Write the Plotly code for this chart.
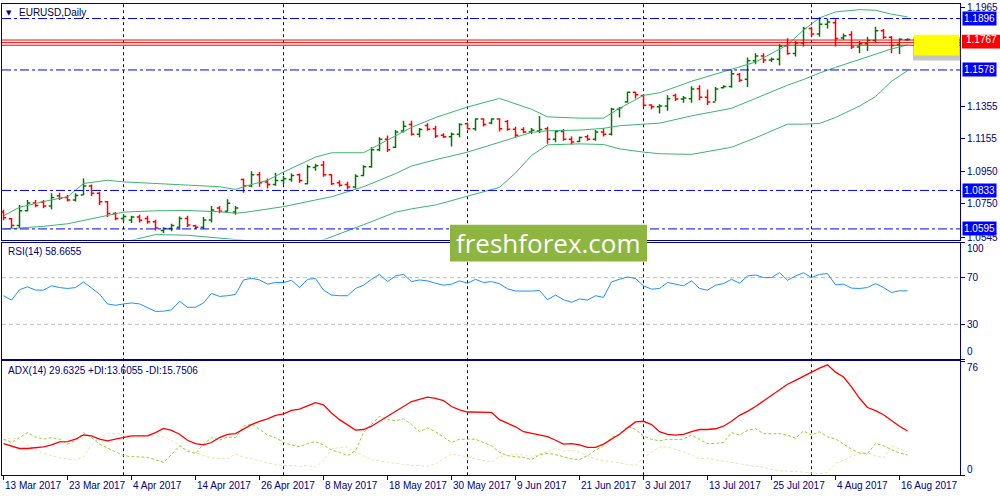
import pandas as pd
import plotly.graph_objects as go

# EURUSD daily bars, 13 Mar 2017 .. 17 Aug 2017 (weekdays)
dates = pd.bdate_range("2017-03-13", "2017-08-17")

opens = [1.0700, 1.0658, 1.0616, 1.0708, 1.0756, 1.0760, 1.0736, 1.0800, 1.0790, 1.0774,
         1.0805, 1.0860, 1.0815, 1.0763, 1.0690, 1.0660, 1.0650, 1.0668, 1.0660, 1.0640,
         1.0585, 1.0598, 1.0605, 1.0660, 1.0615, 1.0605, 1.0650, 1.0725, 1.0705, 1.0700,
         1.0900, 1.0860, 1.0930, 1.0885, 1.0870, 1.0895, 1.0900, 1.0930, 1.0875, 1.0975,
         1.0990, 1.0930, 1.0880, 1.0870, 1.0855, 1.0925, 1.0980, 1.1085, 1.1150, 1.1100,
         1.1200, 1.1240, 1.1180, 1.1235, 1.1215, 1.1175, 1.1165, 1.1180, 1.1245, 1.1215,
         1.1275, 1.1250, 1.1275, 1.1260, 1.1212, 1.1210, 1.1195, 1.1200, 1.1215, 1.1150,
         1.1198, 1.1150, 1.1135, 1.1165, 1.1150, 1.1195, 1.1180, 1.1335, 1.1380, 1.1440,
         1.1420, 1.1362, 1.1350, 1.1355, 1.1420, 1.1398, 1.1400, 1.1462, 1.1410, 1.1380,
         1.1468, 1.1475, 1.1550, 1.1520, 1.1635, 1.1665, 1.1640, 1.1645, 1.1728, 1.1680,
         1.1745, 1.1835, 1.1800, 1.1860, 1.1870, 1.1775, 1.1795, 1.1720, 1.1740, 1.1760,
         1.1820, 1.1780, 1.1735, 1.1765]
highs = [1.0713, 1.0662, 1.0743, 1.0774, 1.0774, 1.0774, 1.0815, 1.0819, 1.0805, 1.0815,
         1.0907, 1.0870, 1.0825, 1.0768, 1.0699, 1.0682, 1.0676, 1.0682, 1.0676, 1.0652,
         1.0605, 1.0627, 1.0672, 1.0676, 1.0621, 1.0668, 1.0737, 1.0737, 1.0778, 1.0737,
         1.0907, 1.0951, 1.0947, 1.0907, 1.0943, 1.0923, 1.0937, 1.0937, 1.0992, 1.0998,
         1.1015, 1.0933, 1.0896, 1.0886, 1.0933, 1.0988, 1.1100, 1.1162, 1.1172, 1.1206,
         1.1264, 1.1264, 1.1219, 1.1249, 1.1233, 1.1186, 1.1192, 1.1249, 1.1253, 1.1280,
         1.1280, 1.1280, 1.1280, 1.1268, 1.1227, 1.1223, 1.1219, 1.1294, 1.1227, 1.1206,
         1.1213, 1.1166, 1.1166, 1.1178, 1.1206, 1.1217, 1.1345, 1.1349, 1.1443, 1.1443,
         1.1423, 1.1366, 1.1366, 1.1421, 1.1431, 1.1417, 1.1478, 1.1484, 1.1457, 1.1472,
         1.1484, 1.1580, 1.1559, 1.1655, 1.1682, 1.1682, 1.1655, 1.1737, 1.1774, 1.1757,
         1.1845, 1.1845, 1.1906, 1.1896, 1.1892, 1.1804, 1.1818, 1.1757, 1.1784, 1.1845,
         1.1831, 1.1788, 1.1774, 1.1774]
lows = [1.0648, 1.0601, 1.0601, 1.0703, 1.0729, 1.0723, 1.0717, 1.0774, 1.0764, 1.0764,
        1.0805, 1.0798, 1.0743, 1.0668, 1.0648, 1.0641, 1.0631, 1.0635, 1.0627, 1.0586,
        1.0570, 1.0580, 1.0590, 1.0607, 1.0594, 1.0594, 1.0635, 1.0692, 1.0703, 1.0682,
        1.0819, 1.0852, 1.0856, 1.0845, 1.0862, 1.0870, 1.0886, 1.0880, 1.0872, 1.0954,
        1.0917, 1.0866, 1.0856, 1.0839, 1.0845, 1.0921, 1.0974, 1.1076, 1.1070, 1.1096,
        1.1192, 1.1172, 1.1162, 1.1202, 1.1158, 1.1158, 1.1104, 1.1162, 1.1213, 1.1202,
        1.1229, 1.1243, 1.1198, 1.1202, 1.1162, 1.1186, 1.1182, 1.1188, 1.1121, 1.1131,
        1.1141, 1.1117, 1.1131, 1.1141, 1.1141, 1.1166, 1.1172, 1.1284, 1.1376, 1.1402,
        1.1349, 1.1335, 1.1308, 1.1325, 1.1386, 1.1376, 1.1376, 1.1390, 1.1362, 1.1386,
        1.1464, 1.1468, 1.1504, 1.1472, 1.1614, 1.1621, 1.1627, 1.1606, 1.1672, 1.1661,
        1.1723, 1.1784, 1.1784, 1.1835, 1.1723, 1.1763, 1.1708, 1.1682, 1.1696, 1.1743,
        1.1770, 1.1682, 1.1676, 1.1757]
closes = [1.0664, 1.0616, 1.0708, 1.0756, 1.0740, 1.0736, 1.0790, 1.0785, 1.0774, 1.0802,
          1.0860, 1.0815, 1.0763, 1.0690, 1.0660, 1.0672, 1.0668, 1.0648, 1.0640, 1.0600,
          1.0598, 1.0616, 1.0660, 1.0620, 1.0605, 1.0650, 1.0712, 1.0705, 1.0754, 1.0725,
          1.0860, 1.0930, 1.0880, 1.0870, 1.0895, 1.0905, 1.0925, 1.0895, 1.0980, 1.0985,
          1.0930, 1.0875, 1.0865, 1.0855, 1.0920, 1.0980, 1.1085, 1.1150, 1.1085, 1.1195,
          1.1230, 1.1180, 1.1210, 1.1212, 1.1170, 1.1165, 1.1180, 1.1240, 1.1215, 1.1275,
          1.1240, 1.1275, 1.1215, 1.1212, 1.1175, 1.1195, 1.1205, 1.1210, 1.1150, 1.1198,
          1.1150, 1.1132, 1.1160, 1.1150, 1.1195, 1.1180, 1.1335, 1.1345, 1.1440, 1.1425,
          1.1360, 1.1350, 1.1355, 1.1400, 1.1398, 1.1405, 1.1460, 1.1410, 1.1380, 1.1460,
          1.1475, 1.1555, 1.1515, 1.1635, 1.1665, 1.1640, 1.1645, 1.1725, 1.1680, 1.1745,
          1.1835, 1.1800, 1.1860, 1.1875, 1.1773, 1.1790, 1.1720, 1.1740, 1.1760, 1.1820,
          1.1780, 1.1730, 1.1768, 1.1767]

# Bollinger bands read at sample bars
bb_idx = [0, 2, 5, 8, 10, 13, 15, 19, 23, 27, 29, 30, 33, 35, 39, 41, 45, 49, 51, 54, 58,
          62, 64, 66, 68, 72, 75, 77, 80, 82, 86, 91, 94, 98, 100, 102, 104, 107, 109, 111, 113]
bb_upper = [1.0676, 1.0729, 1.0764, 1.0794, 1.0876, 1.0896, 1.0886, 1.0876, 1.0866, 1.0856,
            1.0839, 1.0856, 1.0896, 1.0947, 1.1039, 1.1066, 1.1066, 1.1172, 1.1223, 1.1284,
            1.1349, 1.1402, 1.1370, 1.1335, 1.1288, 1.1280, 1.1280, 1.1341, 1.1421, 1.1437,
            1.1508, 1.1580, 1.1627, 1.1733, 1.1825, 1.1900, 1.1937, 1.1951, 1.1947, 1.1923, 1.1906]
bb_mid = [1.0594, 1.0601, 1.0611, 1.0627, 1.0648, 1.0676, 1.0699, 1.0707, 1.0709, 1.0701,
          1.0692, 1.0696, 1.0717, 1.0733, 1.0774, 1.0794, 1.0856, 1.0937, 1.0984, 1.1023,
          1.1070, 1.1131, 1.1162, 1.1192, 1.1202, 1.1206, 1.1217, 1.1233, 1.1243, 1.1249,
          1.1294, 1.1341, 1.1402, 1.1484, 1.1519, 1.1559, 1.1594, 1.1641, 1.1672, 1.1708, 1.1733]
bb_lower = [1.0448, 1.0448, 1.0448, 1.0452, 1.0464, 1.0488, 1.0513, 1.0560, 1.0556, 1.0539,
            1.0533, 1.0525, 1.0478, 1.0468, 1.0509, 1.0546, 1.0621, 1.0699, 1.0719, 1.0743,
            1.0798, 1.0852, 1.0941, 1.1049, 1.1115, 1.1121, 1.1117, 1.1090, 1.1070, 1.1060,
            1.1056, 1.1100, 1.1158, 1.1243, 1.1243, 1.1247, 1.1284, 1.1355, 1.1413, 1.1508, 1.1574]

rsi = [54.5, 50.8, 59.6, 62.1, 59.3, 59.3, 63.0, 61.5, 60.7, 61.5,
       66.3, 60.7, 55.9, 47.5, 46.3, 47.5, 48.3, 47.5, 44.6, 41.0,
       41.3, 42.4, 49.7, 44.6, 44.6, 48.3, 56.5, 53.9, 54.5, 55.6,
       68.0, 69.4, 68.0, 64.4, 65.8, 65.8, 67.7, 61.5, 68.6, 69.2,
       59.3, 55.1, 54.5, 54.5, 60.7, 63.5, 68.6, 72.8, 66.6, 71.4,
       72.8, 66.6, 68.0, 67.2, 65.2, 63.5, 64.4, 67.2, 65.2, 68.6,
       65.8, 66.6, 64.8, 60.4, 58.5, 58.2, 58.5, 59.0, 51.1, 55.1,
       51.1, 48.9, 51.7, 50.8, 54.5, 53.1, 66.3, 68.6, 70.6, 69.2,
       63.0, 60.1, 60.7, 65.8, 64.4, 63.0, 67.2, 60.7, 59.3, 63.5,
       64.9, 68.6, 65.2, 71.4, 72.3, 70.0, 70.0, 74.2, 67.7, 71.4,
       74.2, 70.0, 72.8, 73.4, 63.8, 64.4, 61.0, 60.7, 61.5, 64.9,
       61.5, 57.3, 58.7, 58.67]

adx = [21.2, 19.7, 17.9, 17.9, 18.6, 19.0, 20.3, 22.3, 22.5, 24.1,
       26.9, 26.3, 24.1, 23.0, 24.1, 25.2, 26.3, 26.3, 26.3, 28.5,
       31.3, 30.0, 27.4, 23.4, 21.2, 20.3, 21.9, 25.2, 27.4, 27.8,
       30.6, 33.9, 36.1, 37.7, 40.1, 41.0, 43.4, 44.2, 46.4, 48.6,
       47.1, 41.6, 37.2, 33.9, 30.2, 30.6, 32.8, 36.1, 39.4, 42.7,
       46.0, 49.3, 50.8, 52.2, 51.5, 50.0, 46.0, 43.8, 42.3, 42.3,
       42.3, 42.0, 37.2, 35.0, 32.4, 29.1, 28.0, 27.1, 25.8, 23.4,
       20.8, 21.2, 20.3, 18.6, 18.6, 20.8, 24.1, 27.4, 31.7, 35.7,
       36.1, 33.9, 29.1, 27.4, 26.9, 27.4, 29.1, 30.6, 30.6, 31.1,
       32.8, 36.1, 40.1, 42.7, 46.0, 49.7, 53.7, 57.6, 60.9, 63.5,
       66.4, 69.0, 71.7, 73.9, 69.0, 65.7, 59.2, 51.5, 45.3, 43.2,
       40.5, 36.6, 32.8, 29.63]
plus_di = [24.1, 21.9, 25.2, 28.5, 25.6, 24.1, 25.2, 24.1, 20.8, 23.0,
           28.5, 25.2, 20.8, 18.1, 15.3, 13.1, 12.4, 12.4, 12.0, 10.3,
           8.7, 13.8, 19.7, 16.0, 14.6, 20.8, 25.2, 23.4, 25.6, 25.2,
           32.8, 34.4, 30.6, 26.9, 25.2, 21.9, 20.3, 19.0, 21.2, 22.5,
           20.3, 16.8, 15.3, 13.1, 16.4, 28.5, 33.9, 39.4, 37.2, 36.6,
           37.7, 33.9, 29.1, 31.7, 29.1, 25.2, 21.9, 24.1, 24.1, 24.1,
           21.9, 19.7, 15.3, 13.1, 12.4, 12.0, 10.3, 13.8, 14.6, 13.8,
           12.4, 10.9, 10.5, 13.1, 16.8, 19.7, 25.2, 27.4, 32.8, 30.6,
           26.3, 24.1, 23.0, 24.1, 23.9, 24.1, 26.9, 24.1, 21.2, 21.2,
           21.9, 28.5, 26.9, 30.0, 31.1, 27.8, 27.8, 27.8, 26.9, 24.7,
           29.6, 26.9, 29.1, 25.6, 24.3, 20.8, 17.5, 14.9, 14.6, 21.2,
           19.7, 17.1, 14.9, 13.61]
minus_di = [23.4, 25.2, 24.1, 20.3, 17.5, 14.6, 13.1, 11.6, 10.9, 10.3,
            12.0, 20.3, 25.2, 27.8, 27.8, 27.4, 25.6, 25.6, 26.9, 26.3,
            25.6, 23.0, 20.3, 16.8, 15.3, 13.1, 11.6, 11.4, 10.9, 14.2,
            12.0, 10.9, 9.8, 8.1, 7.2, 6.5, 6.5, 5.9, 6.5, 5.4,
            9.8, 17.5, 18.6, 19.0, 15.3, 13.1, 10.3, 9.8, 8.7, 8.1,
            7.2, 6.5, 6.5, 5.9, 7.6, 10.9, 14.2, 13.1, 12.4, 10.9,
            9.8, 8.7, 12.4, 13.5, 14.2, 13.5, 12.0, 14.2, 15.7, 18.1,
            16.0, 16.8, 15.3, 13.1, 10.9, 9.8, 9.2, 8.3, 7.2, 6.5,
            12.0, 15.3, 19.0, 19.0, 17.3, 15.7, 13.8, 10.9, 11.6, 10.3,
            9.4, 8.3, 7.6, 6.5, 5.9, 5.4, 3.9, 3.0, 2.8, 2.8,
            2.1, 1.5, 1.0, 1.9, 8.1, 9.8, 12.7, 14.2, 14.9, 12.9,
            11.6, 19.5, 17.5, 15.75]

blue_levels = [1.1896, 1.1578, 1.0833, 1.0595]
red_levels = [1.1763, 1.1747, 1.1731]
last_price = 1.1767
price_ticks = [1.1965, 1.1355, 1.1155, 1.0950, 1.0750, 1.0545]

rsi_title = "RSI(14) 58.6655"
adx_title = "ADX(14) 29.6325 +DI:13.6055 -DI:15.7506"

idx = list(range(len(dates)))
label_idx = idx[::8]
month_idx = [i for i in idx[1:] if dates[i].month != dates[i - 1].month]

NAVY = "#000080"
FONT = "Liberation Sans"
FS = 10

fig = go.Figure()

fig.add_trace(go.Ohlc(x=idx, open=opens, high=highs, low=lows, close=closes,
                      increasing_line_color="#007800", decreasing_line_color="#ff0000",
                      line_width=1.5, tickwidth=0.35, xaxis="x2", yaxis="y",
                      showlegend=False, hoverinfo="skip"))
for band in (bb_upper, bb_mid, bb_lower):
    fig.add_trace(go.Scatter(x=bb_idx, y=band, mode="lines", xaxis="x2", yaxis="y",
                             line=dict(color="#3cb371", width=1), showlegend=False))

fig.add_trace(go.Scatter(x=idx, y=rsi, mode="lines", xaxis="x3", yaxis="y2",
                         line=dict(color="#1e90ff", width=1), showlegend=False))

fig.add_trace(go.Scatter(x=idx, y=minus_di, mode="lines", xaxis="x", yaxis="y3",
                         line=dict(color="#f5deb3", width=1, dash="3px,2px"), showlegend=False))
fig.add_trace(go.Scatter(x=idx, y=plus_di, mode="lines", xaxis="x", yaxis="y3",
                         line=dict(color="#9acd32", width=1, dash="3px,2px"), showlegend=False))
fig.add_trace(go.Scatter(x=idx, y=adx, mode="lines", xaxis="x", yaxis="y3",
                         line=dict(color="#ff0000", width=1.3), showlegend=False))

xr = [-0.19, 119.56]
xdom = [0.002, 0.96]
frame = dict(showline=True, mirror=True, linecolor=NAVY, linewidth=1, showgrid=False, zeroline=False)

shapes = []
for m in month_idx:
    shapes.append(dict(type="line", xref="x", yref="paper", x0=m, x1=m, y0=0.044, y1=0.996,
                       line=dict(color=NAVY, width=1, dash="3px,3px"), layer="below"))
for lv in blue_levels:
    shapes.append(dict(type="line", xref="paper", yref="y", x0=xdom[0], x1=xdom[1], y0=lv, y1=lv,
                       line=dict(color="#0000ff", width=1, dash="9px,3px,3px,3px")))
for lv in red_levels:
    shapes.append(dict(type="line", xref="paper", yref="y", x0=xdom[0], x1=xdom[1], y0=lv, y1=lv,
                       line=dict(color="#ff0000", width=1)))
for lv in (70, 30):
    shapes.append(dict(type="line", xref="paper", yref="y2", x0=xdom[0], x1=xdom[1], y0=lv, y1=lv,
                       line=dict(color="#c0c0c0", width=1, dash="4px,3px"), layer="below"))
# yellow marker box with soft shadow
shapes.append(dict(type="rect", xref="paper", yref="paper", x0=0.913, x1=0.961, y0=0.882, y1=0.930,
                   fillcolor="rgba(90,90,90,0.35)", line_width=0))
shapes.append(dict(type="rect", xref="paper", yref="paper", x0=0.914, x1=0.959, y0=0.892, y1=0.934,
                   fillcolor="#ffff00", line_width=0))
# watermark box
shapes.append(dict(type="rect", xref="paper", yref="paper", x0=0.450, x1=0.647, y0=0.476, y1=0.550,
                   fillcolor="#8db53f", line_width=0))
# price label box
shapes.append(dict(type="rect", xref="paper", yref="paper", x0=0.962, x1=1.0, y0=0.906, y1=0.934,
                   fillcolor="#ff0000", line_width=0))

ann = []
for i in label_idx:
    ann.append(dict(x=i - 0.1, y=0.024, xref="x", yref="paper", xanchor="left", yanchor="middle",
                    text=f"{dates[i].day} {dates[i]:%b %Y}", showarrow=False,
                    font=dict(family=FONT, size=FS, color=NAVY)))
for lv in blue_levels:
    ann.append(dict(x=0.962, y=lv, xref="paper", yref="y", xanchor="left", yanchor="middle",
                    text=f"{lv:.4f}", showarrow=False, bgcolor="#0000ff", borderpad=1,
                    font=dict(family=FONT, size=FS, color="white")))
ann.append(dict(x=0.964, y=last_price, xref="paper", yref="y", xanchor="left", yanchor="middle",
                text=f"{last_price:.4f}", showarrow=False,
                font=dict(family=FONT, size=FS, color="white")))
ann.append(dict(x=0.009, y=0.978, xref="paper", yref="paper", xanchor="center", yanchor="middle",
                text="▼", showarrow=False, font=dict(family="DejaVu Sans", size=7, color=NAVY)))
ann.append(dict(x=0.017, y=0.978, xref="paper", yref="paper", xanchor="left", yanchor="middle",
                text="EURUSD,Daily", showarrow=False, font=dict(family=FONT, size=FS, color="#000040")))
ann.append(dict(x=0.006, y=0.496, xref="paper", yref="paper", xanchor="left", yanchor="middle",
                text=rsi_title, showarrow=False, font=dict(family=FONT, size=FS, color=NAVY)))
ann.append(dict(x=0.006, y=0.256, xref="paper", yref="paper", xanchor="left", yanchor="middle",
                text=adx_title, showarrow=False, font=dict(family=FONT, size=FS, color=NAVY)))
for txt, yp in (("100", 0.502), ("70", 0.443), ("30", 0.349), ("0", 0.294), ("76", 0.262), ("0", 0.056)):
    ann.append(dict(x=0.965, y=yp, xref="paper", yref="paper", xanchor="left", yanchor="middle",
                    text=txt, showarrow=False, font=dict(family=FONT, size=FS, color=NAVY)))
ann.append(dict(x=0.5485, y=0.513, xref="paper", yref="paper", xanchor="center", yanchor="middle",
                text="freshforex.com", showarrow=False, font=dict(family="Open Sans", size=26, color="white")))

fig.update_layout(
    width=1000, height=500, margin=dict(l=0, r=0, t=0, b=0),
    paper_bgcolor="white", plot_bgcolor="white", showlegend=False,
    xaxis=dict(domain=xdom, anchor="y3", range=xr, tickvals=label_idx, ticks="outside",
               ticklen=4, tickcolor=NAVY, showticklabels=False, rangeslider=dict(visible=False), **frame),
    xaxis2=dict(domain=xdom, anchor="y", matches="x", showticklabels=False,
                rangeslider=dict(visible=False), **frame),
    xaxis3=dict(domain=xdom, anchor="y2", matches="x", showticklabels=False, **frame),
    yaxis=dict(domain=[0.52, 0.996], anchor="x2", side="right", range=[1.0529, 1.1986],
               tickvals=price_ticks, ticktext=[f"{v:.4f}" for v in price_ticks], ticks="outside",
               ticklen=4, tickcolor=NAVY, tickfont=dict(family=FONT, size=FS, color=NAVY),
               ticklabeloverflow="allow", **frame),
    yaxis2=dict(domain=[0.278, 0.514], anchor="x3", side="right", range=[0, 100],
                tickvals=[100, 70, 30, 0], ticks="outside", ticklen=4, tickcolor=NAVY,
                showticklabels=False, **frame),
    yaxis3=dict(domain=[0.044, 0.274], anchor="x", side="right", range=[0, 76.2],
                tickvals=[76, 0], ticks="outside", ticklen=4, tickcolor=NAVY,
                showticklabels=False, **frame),
    shapes=shapes, annotations=ann,
)

# no modebar, and drop the default page margin so the figure sits at the window corner
fig.write_html("out.html", config={"displayModeBar": False},
               post_script="document.body.style.margin='0';")
